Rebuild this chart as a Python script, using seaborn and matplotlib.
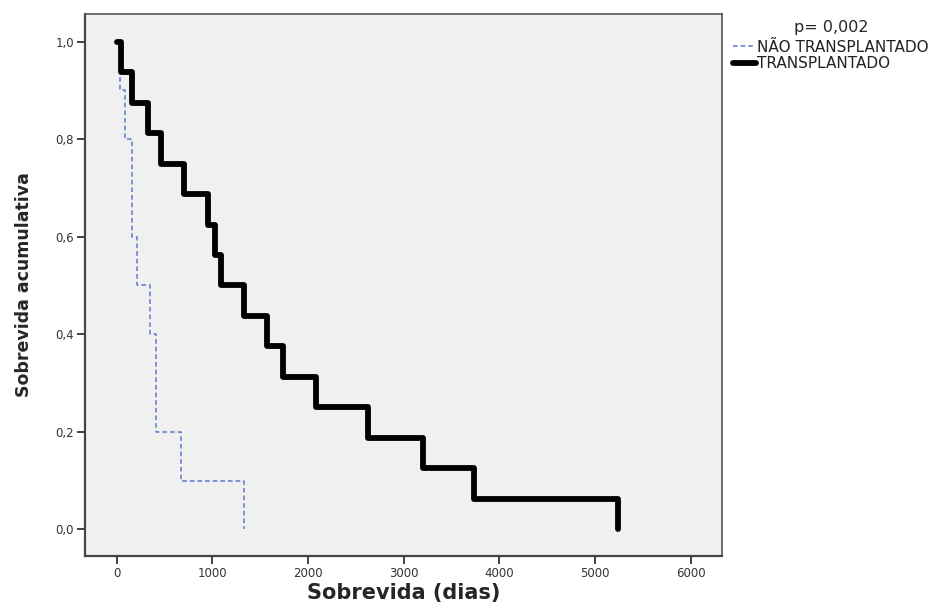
import matplotlib
matplotlib.use("Agg")
import matplotlib.pyplot as plt
import seaborn as sns
import pandas as pd
from matplotlib.ticker import FuncFormatter

# Kaplan-Meier steps (days, cumulative survival)
nao_dias = [0, 39, 83, 164, 209, 344, 414, 668, 1326]
nao_surv = [1.0, 0.9, 0.8, 0.6, 0.5, 0.4, 0.2, 0.1, 0.0]

trans_dias = [0, 49, 157, 324, 466, 700, 950, 1023, 1093, 1326, 1576, 1743,
              2084, 2630, 3205, 3737, 5245]
trans_surv = [1.0, 0.9375, 0.875, 0.8125, 0.75, 0.6875, 0.625, 0.5625, 0.5,
              0.4375, 0.375, 0.3125, 0.25, 0.1875, 0.125, 0.0625, 0.0]

x_ticks = [0, 1000, 2000, 3000, 4000, 5000, 6000]
y_ticks = [0.0, 0.2, 0.4, 0.6, 0.8, 1.0]

grupo_nao = "NÃO TRANSPLANTADO"
grupo_trans = "TRANSPLANTADO"
p_texto = "p= 0,002"

sns.set_style("ticks")
plt.rcParams["font.family"] = ["DejaVu Sans"]

fig = plt.figure(figsize=(9.52, 6.07), dpi=100)
ax = fig.add_axes([0.0893, 0.084, 0.669, 0.893])
ax.set_facecolor("#f0f0f0")

df_nao = pd.DataFrame({"dias": nao_dias, "surv": nao_surv})
df_trans = pd.DataFrame({"dias": trans_dias, "surv": trans_surv})

sns.lineplot(data=df_nao, x="dias", y="surv", ax=ax, drawstyle="steps-post",
             color="#5a78d0", linewidth=1.1, linestyle=(0, (3, 2)),
             label=grupo_nao, estimator=None, sort=False)
sns.lineplot(data=df_trans, x="dias", y="surv", ax=ax, drawstyle="steps-post",
             color="black", linewidth=4.2, solid_capstyle="round",
             solid_joinstyle="round", label=grupo_trans, estimator=None, sort=False)

ax.set_xlim(-331, 6327)
ax.set_ylim(-0.0548, 1.0568)
ax.set_xticks(x_ticks)
ax.set_yticks(y_ticks)
ax.yaxis.set_major_formatter(FuncFormatter(lambda v, p: f"{v:.1f}".replace(".", ",")))
ax.tick_params(axis="both", direction="out", length=6, width=1.3, color="#333333",
               labelsize=8.5, labelcolor="#333333", pad=2)

for side in ["left", "bottom"]:
    ax.spines[side].set_color("#444444")
    ax.spines[side].set_linewidth(1.6)
for side in ["top", "right"]:
    ax.spines[side].set_visible(True)
    ax.spines[side].set_color("#555555")
    ax.spines[side].set_linewidth(1.2)

ax.set_xlabel("Sobrevida (dias)", fontsize=15, fontweight="bold", labelpad=2)
ax.set_ylabel("Sobrevida acumulativa", fontsize=12.5, fontweight="bold", labelpad=16)

leg = ax.legend(title=p_texto, loc="upper left", bbox_to_anchor=(1.003, 1.005),
                frameon=False, fontsize=11, title_fontsize=11.5,
                handlelength=1.5, handletextpad=0.1, borderaxespad=0.2,
                labelspacing=0.1)
leg._legend_box.sep = 3
for t in leg.get_texts():
    t.set_color("#222222")

plt.savefig("out.png", dpi=100)
